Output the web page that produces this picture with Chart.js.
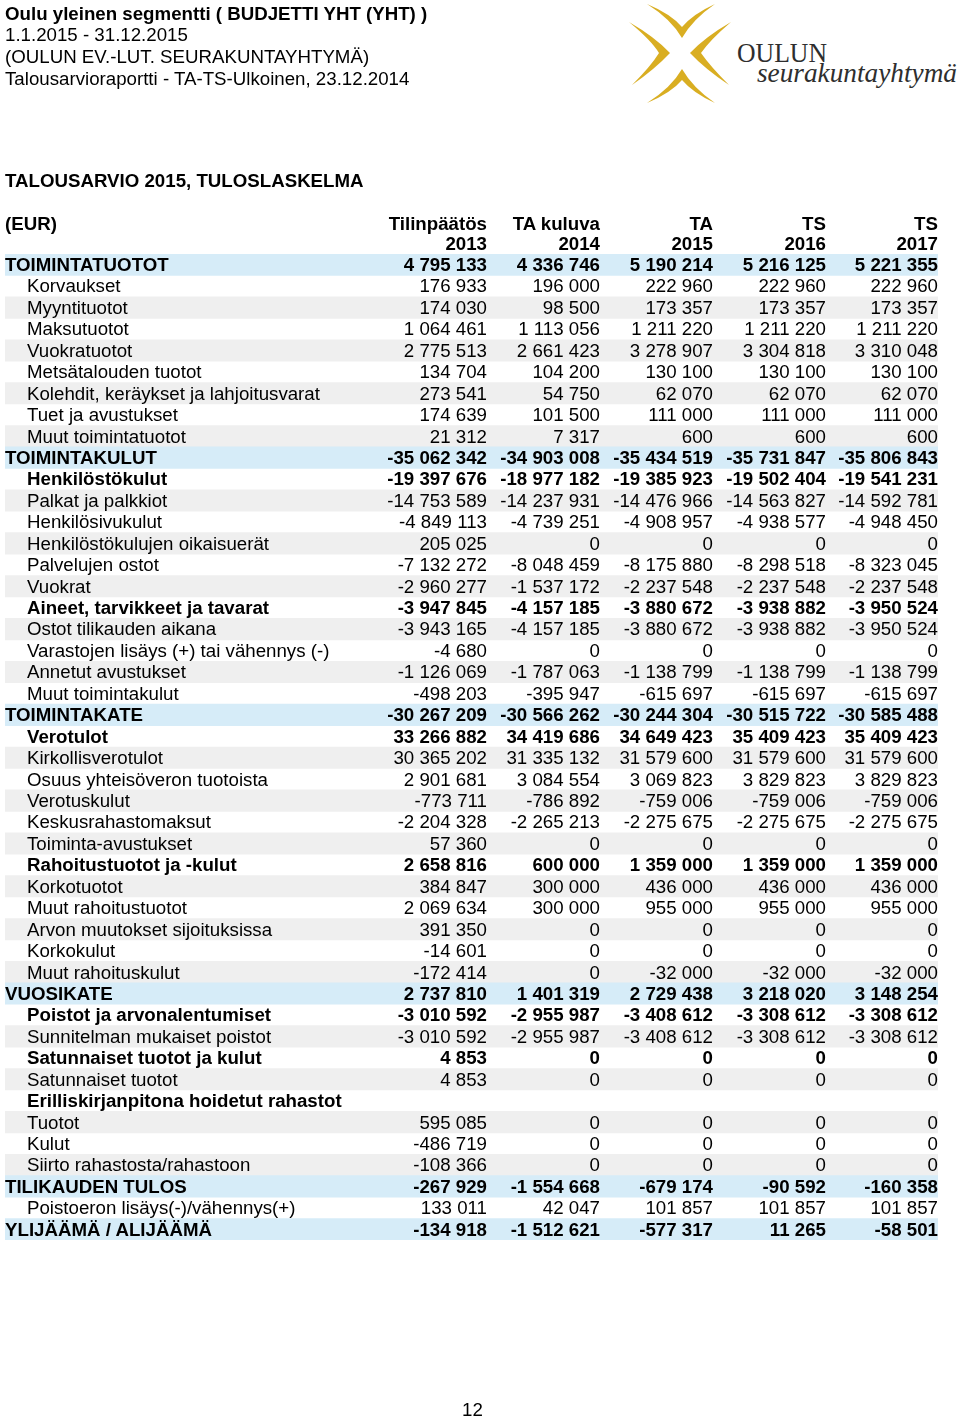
<!DOCTYPE html>
<html>
<head>
<meta charset="utf-8">
<script src="https://cdn.jsdelivr.net/npm/chart.js@4/dist/chart.umd.min.js"></script>
<style>
  html, body { margin:0; padding:0; background:#fff; }
  body { width:960px; height:1419px; position:relative; overflow:hidden;
         font-family:"Liberation Sans", Arial, sans-serif; font-size:18.7px; color:#000; }
  .t { position:absolute; white-space:nowrap; line-height:21.44px; height:21.44px; }
  .b { font-weight:bold; }
  #bands { position:absolute; left:5px; top:254px; }
  #table { position:absolute; left:0; top:0; width:960px; height:1419px; }
</style>
</head>
<body>
<svg id="logo" width="960" height="112" style="position:absolute;left:0;top:0">
  <g fill="#d9ae22">
    <path d="M647,4 Q671,19 682,38 Q693,19 715,4 Q693,14 682,27 Q671,14 647,4 Z"/>
    <path d="M647,103 Q671,88 682,69 Q693,88 715,103 Q693,93 682,80 Q671,93 647,103 Z"/>
    <path d="M629,22 Q655,37 670,53 Q655,69 632,85 Q651,66 659,53 Q651,40 629,22 Z"/>
    <path d="M731,22 Q705,37 690,53 Q705,69 729,85 Q710,66 701,53 Q710,40 731,22 Z"/>
  </g>
  <text x="737" y="62" font-family="Liberation Serif, DejaVu Serif, serif" font-size="27" fill="#2e2e2e" textLength="90" lengthAdjust="spacingAndGlyphs">OULUN</text>
  <text x="757" y="82" font-family="Liberation Serif, DejaVu Serif, serif" font-style="italic" font-size="28" fill="#2e2e2e" textLength="200" lengthAdjust="spacingAndGlyphs">seurakuntayhtymä</text>
</svg>
<canvas id="bands" width="933" height="986"></canvas>
<div id="table"></div>
<script>
// ---- header texts ----
const titleLines = [
  "Oulu yleinen segmentti ( BUDJETTI YHT (YHT) )",
  "1.1.2015 - 31.12.2015",
  "(OULUN EV.-LUT. SEURAKUNTAYHTYMÄ)",
  "Talousarvioraportti - TA-TS-Ulkoinen, 23.12.2014"
];
const reportTitle = "TALOUSARVIO 2015, TULOSLASKELMA";
const unitLabel = "(EUR)";
const colHeads = ["Tilinpäätös", "TA kuluva", "TA", "TS", "TS"];
const colYears = ["2013", "2014", "2015", "2016", "2017"];
const pageNumber = "12";

// ---- rows ----
const rowLabels = [
  "TOIMINTATUOTOT","Korvaukset","Myyntituotot","Maksutuotot","Vuokratuotot",
  "Metsätalouden tuotot","Kolehdit, keräykset ja lahjoitusvarat","Tuet ja avustukset","Muut toimintatuotot",
  "TOIMINTAKULUT","Henkilöstökulut","Palkat ja palkkiot","Henkilösivukulut","Henkilöstökulujen oikaisuerät",
  "Palvelujen ostot","Vuokrat","Aineet, tarvikkeet ja tavarat","Ostot tilikauden aikana",
  "Varastojen lisäys (+) tai vähennys (-)","Annetut avustukset","Muut toimintakulut",
  "TOIMINTAKATE","Verotulot","Kirkollisverotulot","Osuus yhteisöveron tuotoista","Verotuskulut",
  "Keskusrahastomaksut","Toiminta-avustukset","Rahoitustuotot ja -kulut","Korkotuotot","Muut rahoitustuotot",
  "Arvon muutokset sijoituksissa","Korkokulut","Muut rahoituskulut",
  "VUOSIKATE","Poistot ja arvonalentumiset","Sunnitelman mukaiset poistot","Satunnaiset tuotot ja kulut",
  "Satunnaiset tuotot","Erilliskirjanpitona hoidetut rahastot","Tuotot","Kulut","Siirto rahastosta/rahastoon",
  "TILIKAUDEN TULOS","Poistoeron lisäys(-)/vähennys(+)","YLIJÄÄMÄ / ALIJÄÄMÄ"
];
// 0 = main total (blue), 1 = bold subtotal, 2 = normal line
const rowLevels = [
  0,2,2,2,2,2,2,2,2,
  0,1,2,2,2,2,2,1,2,2,2,2,
  0,1,2,2,2,2,2,1,2,2,2,2,2,
  0,1,2,1,2,1,2,2,2,
  0,2,0
];
const v2013 = [4795133,176933,174030,1064461,2775513,134704,273541,174639,21312,
  -35062342,-19397676,-14753589,-4849113,205025,-7132272,-2960277,-3947845,-3943165,-4680,-1126069,-498203,
  -30267209,33266882,30365202,2901681,-773711,-2204328,57360,2658816,384847,2069634,391350,-14601,-172414,
  2737810,-3010592,-3010592,4853,4853,null,595085,-486719,-108366,
  -267929,133011,-134918];
const v2014 = [4336746,196000,98500,1113056,2661423,104200,54750,101500,7317,
  -34903008,-18977182,-14237931,-4739251,0,-8048459,-1537172,-4157185,-4157185,0,-1787063,-395947,
  -30566262,34419686,31335132,3084554,-786892,-2265213,0,600000,300000,300000,0,0,0,
  1401319,-2955987,-2955987,0,0,null,0,0,0,
  -1554668,42047,-1512621];
const v2015 = [5190214,222960,173357,1211220,3278907,130100,62070,111000,600,
  -35434519,-19385923,-14476966,-4908957,0,-8175880,-2237548,-3880672,-3880672,0,-1138799,-615697,
  -30244304,34649423,31579600,3069823,-759006,-2275675,0,1359000,436000,955000,0,0,-32000,
  2729438,-3408612,-3408612,0,0,null,0,0,0,
  -679174,101857,-577317];
const v2016 = [5216125,222960,173357,1211220,3304818,130100,62070,111000,600,
  -35731847,-19502404,-14563827,-4938577,0,-8298518,-2237548,-3938882,-3938882,0,-1138799,-615697,
  -30515722,35409423,31579600,3829823,-759006,-2275675,0,1359000,436000,955000,0,0,-32000,
  3218020,-3308612,-3308612,0,0,null,0,0,0,
  -90592,101857,11265];
const v2017 = [5221355,222960,173357,1211220,3310048,130100,62070,111000,600,
  -35806843,-19541231,-14592781,-4948450,0,-8323045,-2237548,-3950524,-3950524,0,-1138799,-615697,
  -30585488,35409423,31579600,3829823,-759006,-2275675,0,1359000,436000,955000,0,0,-32000,
  3148254,-3308612,-3308612,0,0,null,0,0,0,
  -160358,101857,-58501];
const series = [v2013, v2014, v2015, v2016, v2017];

// ---- layout constants ----
const ROW_H = 21.44, ROW_TOP = 254;
const COL_RIGHT = [487, 600, 713, 826, 938];
const BLUE = "#d6ecf8", GRAY = "#efefef";

function fmt(n) {
  if (n === null || n === undefined) return "";
  const s = Math.abs(n).toString().replace(/\B(?=(\d{3})+(?!\d))/g, " ");
  return (n < 0 ? "-" : "") + s;
}

const tbl = document.getElementById("table");
function addText(txt, x, cy, opts) {
  const d = document.createElement("div");
  d.className = "t" + (opts.bold ? " b" : "");
  d.textContent = txt;
  d.style.top = (cy - ROW_H / 2) + "px";
  if (opts.right) { d.style.right = (960 - x) + "px"; d.style.textAlign = "right"; }
  else d.style.left = x + "px";
  tbl.appendChild(d);
}

// header block
titleLines.forEach((t, i) => addText(t, 5, 13.5 + i * 21.7, { bold: i === 0 }));
addText(reportTitle, 5, 180.5, { bold: true });
addText(unitLabel, 5, 223.5, { bold: true });
colHeads.forEach((h, i) => {
  addText(h, COL_RIGHT[i], 223.5, { bold: true, right: true });
  addText(colYears[i], COL_RIGHT[i], 243.5, { bold: true, right: true });
});

// row shading pattern: restarts after each blue row
const bandColors = [];
let k = 0;
rowLevels.forEach(l => {
  if (l === 0) { bandColors.push(BLUE); k = 0; }
  else { k++; bandColors.push(k % 2 === 0 ? GRAY : "rgba(0,0,0,0)"); }
});

// rows text
rowLabels.forEach((lab, i) => {
  const cy = ROW_TOP + ROW_H * i + ROW_H / 2;
  const lvl = rowLevels[i];
  const bold = lvl <= 1;
  addText(lab, lvl === 0 ? 5 : 27, cy, { bold });
  series.forEach((s, c) => addText(fmt(s[i]), COL_RIGHT[c], cy, { bold, right: true }));
});

addText(pageNumber, 462, 1410, {});

// shading bands drawn by Chart.js (floating horizontal bars, one per row)
new Chart(document.getElementById("bands"), {
  type: "bar",
  data: {
    labels: rowLabels,
    datasets: [{
      data: rowLabels.map(() => [0, 1]),
      backgroundColor: bandColors,
      borderWidth: 0,
      barPercentage: 1.0,
      categoryPercentage: 1.0
    }]
  },
  options: {
    indexAxis: "y",
    responsive: false,
    animation: false,
    devicePixelRatio: 1,
    layout: { padding: 0 },
    plugins: { legend: { display: false }, tooltip: { enabled: false } },
    scales: {
      x: { display: false, min: 0, max: 1 },
      y: { display: false }
    }
  }
});
</script>
</body>
</html>
